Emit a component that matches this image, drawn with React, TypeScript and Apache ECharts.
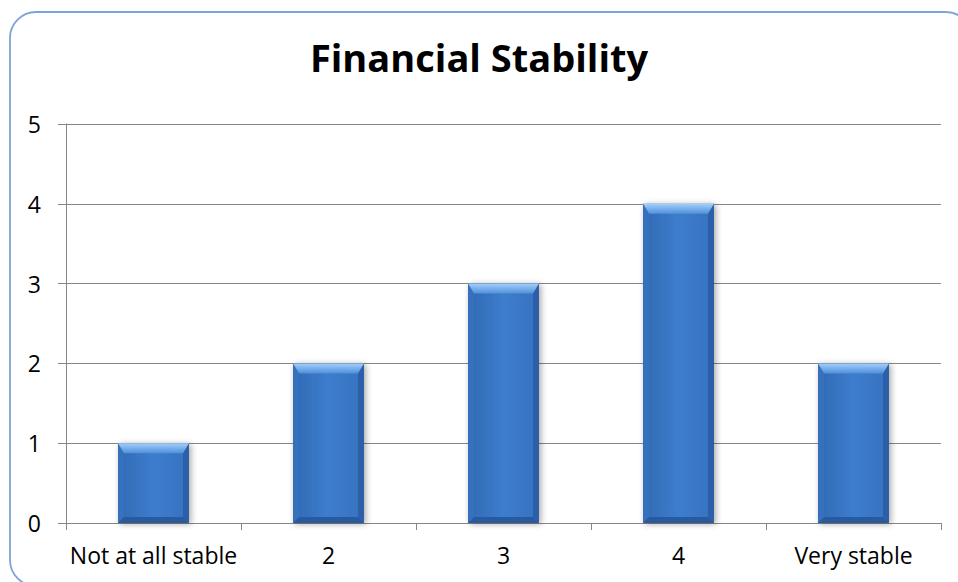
import React, { useEffect, useRef } from "react";
import * as echarts from "echarts";

const categories = ["Not at all stable", "2", "3", "4", "Very stable"];
const counts = [1, 2, 3, 4, 2];
const chartTitle = "Financial Stability";

const FONT = "'Open Sans', Lato, sans-serif";

// Bevelled column, in the style of an office chart: gradient body with
// lighter top bevel and darker side / bottom edges.
function renderBevelBar(params: any, api: any) {
  const idx = api.value(0);
  const val = api.value(1);
  const top = api.coord([idx, val]);
  const base = api.coord([idx, 0]);
  const w = api.size([1, 0])[0] * 0.405;
  const x0 = top[0] - w / 2;
  const x1 = top[0] + w / 2;
  const y0 = top[1];
  const y1 = base[1];
  const h = y1 - y0;
  const b = Math.min(10, h / 3);
  const s = 6;
  return {
    type: "group",
    children: [
      {
        type: "rect",
        shape: { x: x0, y: y0, width: w, height: h },
        style: {
          fill: new echarts.graphic.LinearGradient(0, 0, 1, 0, [
            { offset: 0, color: "#3169b3" },
            { offset: 0.5, color: "#3d7dcd" },
            { offset: 1, color: "#3672c0" },
          ]),
          shadowBlur: 6,
          shadowColor: "rgba(0,0,0,0.35)",
          shadowOffsetX: 2,
          shadowOffsetY: 1,
        },
      },
      {
        // left edge
        type: "polygon",
        shape: { points: [[x0, y0], [x0 + s, y0 + b], [x0 + s, y1 - s], [x0, y1]] },
        style: { fill: "#3770bd" },
      },
      {
        // right edge
        type: "polygon",
        shape: { points: [[x1, y0], [x1 - s, y0 + b], [x1 - s, y1 - s], [x1, y1]] },
        style: { fill: "#2c5fa7" },
      },
      {
        // bottom edge
        type: "polygon",
        shape: { points: [[x0, y1], [x0 + s, y1 - s], [x1 - s, y1 - s], [x1, y1]] },
        style: { fill: "#2a5a9e" },
      },
      {
        // top bevel
        type: "polygon",
        shape: { points: [[x0, y0], [x1, y0], [x1 - s, y0 + b], [x0 + s, y0 + b]] },
        style: {
          fill: new echarts.graphic.LinearGradient(0, 0, 0, 1, [
            { offset: 0, color: "#a3cff8" },
            { offset: 1, color: "#4f90dc" },
          ]),
        },
      },
    ],
  };
}

export default function App() {
  const ref = useRef<HTMLDivElement>(null);

  useEffect(() => {
    if (!ref.current) return;
    const chart = echarts.init(ref.current, null, { renderer: "svg" });
    chart.setOption({
      animation: false,
      backgroundColor: "#ffffff",
      title: {
        text: chartTitle,
        left: "center",
        top: 33,
        textStyle: {
          fontFamily: FONT,
          fontWeight: "bold",
          fontSize: 38,
          color: "#000000",
        },
      },
      graphic: [
        {
          type: "rect",
          shape: { x: 10, y: 12, width: 962, height: 574, r: 26 },
          style: { fill: "none", stroke: "#7ea3d6", lineWidth: 1.8 },
          silent: true,
          z: 100,
        },
      ],
      grid: { left: 66, right: 17, top: 124, bottom: 59, containLabel: false },
      xAxis: {
        type: "category",
        data: categories,
        boundaryGap: true,
        axisLine: { lineStyle: { color: "#868686", width: 1 } },
        axisTick: { show: true, length: 7, lineStyle: { color: "#868686" } },
        axisLabel: {
          fontFamily: FONT,
          fontSize: 23,
          color: "#000000",
          margin: 20,
          interval: 0,
        },
        splitLine: { show: false },
      },
      yAxis: {
        type: "value",
        min: 0,
        max: 5,
        interval: 1,
        axisLine: { show: true, lineStyle: { color: "#868686", width: 1 } },
        axisTick: { show: true, length: 8, lineStyle: { color: "#868686" } },
        axisLabel: {
          fontFamily: FONT,
          fontSize: 23,
          color: "#000000",
          margin: 25,
        },
        splitLine: { show: true, lineStyle: { color: "#868686", width: 1.2 } },
      },
      series: [
        {
          type: "custom",
          renderItem: renderBevelBar,
          data: counts.map((v, i) => [i, v]),
          encode: { x: 0, y: 1 },
          z: 5,
        },
      ],
    });
    return () => chart.dispose();
  }, []);

  return (
    <div
      ref={ref}
      style={{ position: "fixed", left: 0, top: 0, width: 958, height: 582 }}
    />
  );
}
